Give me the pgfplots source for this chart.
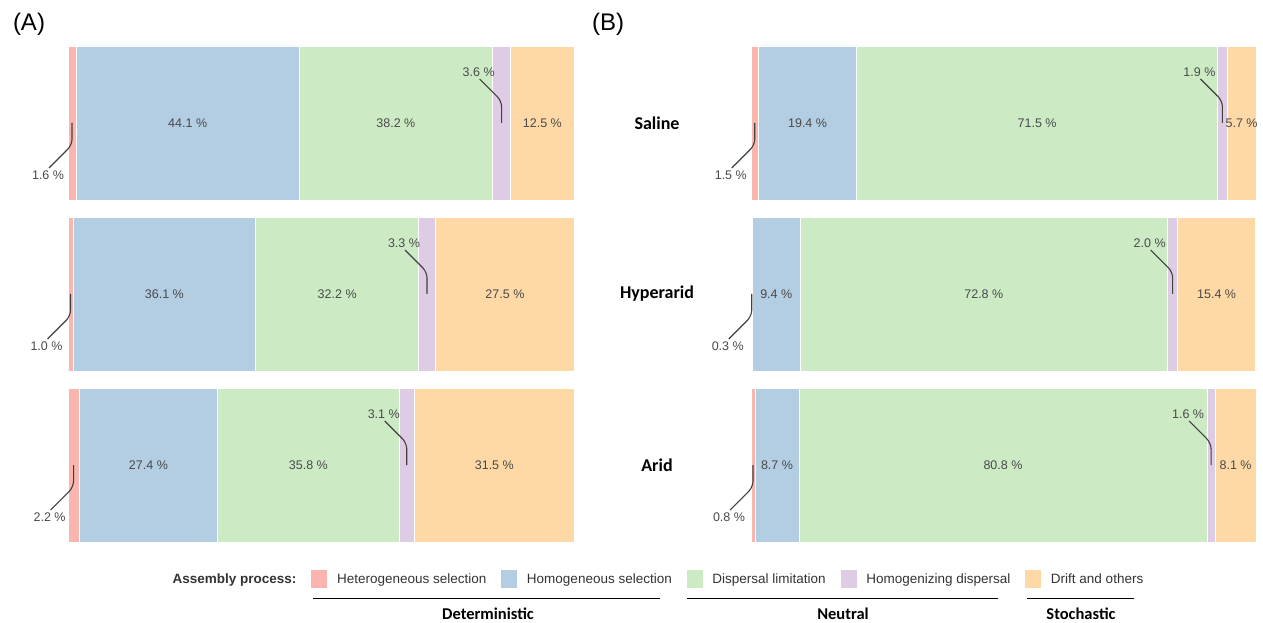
\documentclass[border=0pt]{standalone}
\usepackage{pgfplots}
\pgfplotsset{compat=1.18}
\usepackage{pgfplotstable}
\usepackage{fontspec}
\setmainfont{Liberation Sans}
\newfontfamily\carlito{Carlito}
\definecolor{cHet}{HTML}{FBB4AE}
\definecolor{cHom}{HTML}{B3CDE3}
\definecolor{cDis}{HTML}{CCEBC5}
\definecolor{cHmg}{HTML}{DECBE4}
\definecolor{cDri}{HTML}{FED9A6}
\definecolor{txt}{HTML}{4A4A4A}
\definecolor{ln}{HTML}{404040}

% y: 0 = Arid, 1 = Hyperarid, 2 = Saline
\pgfplotstableread{
y het hom dis hmg dri
0 2.2 27.4 35.8 3.1 31.5
1 1.0 36.1 32.2 3.3 27.5
2 1.6 44.1 38.2 3.6 12.5
}\tableA
\pgfplotstableread{
y het hom dis hmg dri
0 0.8 8.7 80.8 1.6 8.1
1 0.3 9.4 72.8 2.0 15.4
2 1.5 19.4 71.5 1.9 5.7
}\tableB

\pgfplotsset{
  mybar/.style={
    xbar stacked, bar width=0.9,
    scale only axis, height=496pt,
    xmin=0, xmax=100, ymin=-0.45, ymax=2.45,
    hide axis, clip=false, anchor=south west,
    legend image code/.code={\fill[##1] (0pt,-9.5pt) rectangle (17pt,9.5pt);},
  },
  segs/.style={draw=white, line width=0.6pt},
}
\tikzset{
  lbl/.style={font=\fontsize{12.5}{15}\selectfont, text=txt, inner sep=1pt},
  lead/.style={draw=ln, line width=1.1pt, rounded corners=6pt},
  rowlbl/.style={font=\carlito\bfseries\fontsize{18}{21}\selectfont},
}
\newcommand{\inl}[3]{\node[lbl] at (axis cs:#1,#2) {#3 \%};}
\newcommand{\low}[3]{%
  \draw[lead] (axis cs:#1,#2) -- ++(0pt,-22pt) -- ++(-23pt,-23pt);
  \node[lbl] at ([shift={(-24pt,-52pt)}]axis cs:#1,#2) {#3 \%};}
\newcommand{\high}[3]{%
  \draw[lead] (axis cs:#1,#2) -- ++(0pt,22pt) -- ++(-22pt,22pt);
  \node[lbl] at ([shift={(-23pt,51pt)}]axis cs:#1,#2) {#3 \%};}

\newcommand{\annA}{%
  % Saline
  \low{0.8}{2}{1.6}\inl{23.65}{2}{44.1}\inl{64.8}{2}{38.2}\high{85.7}{2}{3.6}\inl{93.75}{2}{12.5}%
  % Hyperarid
  \low{0.5}{1}{1.0}\inl{19.05}{1}{36.1}\inl{53.2}{1}{32.2}\high{70.95}{1}{3.3}\inl{86.35}{1}{27.5}%
  % Arid
  \low{1.1}{0}{2.2}\inl{15.9}{0}{27.4}\inl{47.5}{0}{35.8}\high{66.95}{0}{3.1}\inl{84.25}{0}{31.5}%
}
\newcommand{\annB}{%
  \low{0.75}{2}{1.5}\inl{11.2}{2}{19.4}\inl{56.65}{2}{71.5}\high{93.35}{2}{1.9}\inl{97.15}{2}{5.7}%
  \low{0.15}{1}{0.3}\inl{5.0}{1}{9.4}\inl{46.1}{1}{72.8}\high{83.5}{1}{2.0}\inl{92.2}{1}{15.4}%
  \low{0.4}{0}{0.8}\inl{5.15}{0}{8.7}\inl{49.9}{0}{80.8}\high{91.1}{0}{1.6}\inl{95.95}{0}{8.1}%
  \node[rowlbl] at ([xshift=-94pt]axis cs:0,2) {Saline};
  \node[rowlbl] at ([xshift=-94pt]axis cs:0,1) {Hyperarid};
  \node[rowlbl] at ([xshift=-94pt]axis cs:0,0) {Arid};
}

\begin{document}
\begin{tikzpicture}
\useasboundingbox (0pt,0pt) rectangle (1263pt,623pt);

\begin{axis}[mybar, at={(68pt,81pt)}, width=506pt,
  after end axis/.code={\annA},
  legend columns=6,
  legend style={at={(rel axis cs:1.159,-0.0746)}, anchor=center, draw=none, fill=none,
    font=\fontsize{13.5}{16}\selectfont, text=black!80,
    /tikz/every odd column/.append style={column sep=7pt},
    /tikz/every even column/.append style={column sep=12pt}},
]
\addlegendimage{empty legend}
\addlegendentry{\textbf{Assembly process:}}
\addplot[segs, fill=cHet] table[x=het,y=y]{\tableA};
\addlegendentry{Heterogeneous selection}
\addplot[segs, fill=cHom] table[x=hom,y=y]{\tableA};
\addlegendentry{Homogeneous selection}
\addplot[segs, fill=cDis] table[x=dis,y=y]{\tableA};
\addlegendentry{Dispersal limitation}
\addplot[segs, fill=cHmg] table[x=hmg,y=y]{\tableA};
\addlegendentry{Homogenizing dispersal}
\addplot[segs, fill=cDri] table[x=dri,y=y]{\tableA};
\addlegendentry{Drift and others}
\end{axis}

\begin{axis}[mybar, at={(751pt,81pt)}, width=505pt,
  after end axis/.code={\annB}]
\addplot[segs, fill=cHet] table[x=het,y=y]{\tableB};
\addplot[segs, fill=cHom] table[x=hom,y=y]{\tableB};
\addplot[segs, fill=cDis] table[x=dis,y=y]{\tableB};
\addplot[segs, fill=cHmg] table[x=hmg,y=y]{\tableB};
\addplot[segs, fill=cDri] table[x=dri,y=y]{\tableB};
\end{axis}

\node[font=\fontsize{24}{28}\selectfont] at (29pt,599pt) {(A)};
\node[font=\fontsize{24}{28}\selectfont] at (608pt,599pt) {(B)};

% process groups
\begin{scope}[line width=1pt]
\draw (313pt,24pt) -- (660pt,24pt);
\draw (687pt,24pt) -- (998pt,24pt);
\draw (1027pt,24pt) -- (1134pt,24pt);
\end{scope}
\begin{scope}[font=\carlito\bfseries\fontsize{16.5}{19}\selectfont]
\node at (488pt,9pt) {Deterministic};
\node at (843pt,9pt) {Neutral};
\node at (1081pt,9pt) {Stochastic};
\end{scope}
\end{tikzpicture}
\end{document}
